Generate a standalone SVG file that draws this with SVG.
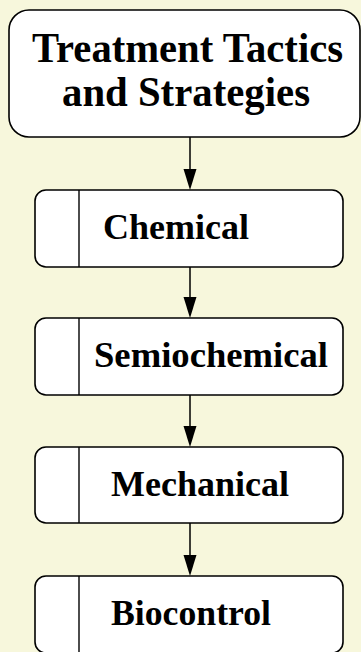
<svg xmlns="http://www.w3.org/2000/svg" width="361" height="652" viewBox="0 0 361 652">
<style>
.box{fill:#fff;stroke:#000;stroke-width:1.6}
.div{stroke:#000;stroke-width:1.4}
.t{font-family:"Liberation Serif","Times New Roman",serif;font-weight:bold;fill:#000}
.big{font-size:43px}
.small{font-size:36px}
.edge{stroke:#000;stroke-width:1.5;fill:none}
.head{fill:#000}
</style>
<rect x="0" y="0" width="361" height="652" fill="#F7F7DC"/>
<g id="edges">
<line class="edge" x1="190" y1="137" x2="190" y2="169"/>
<path class="head" d="M183.5,169 L196.5,169 L190,190 Z"/>
<line class="edge" x1="190" y1="267" x2="190" y2="297"/>
<path class="head" d="M183.5,297 L196.5,297 L190,318 Z"/>
<line class="edge" x1="190" y1="395" x2="190" y2="426"/>
<path class="head" d="M183.5,426 L196.5,426 L190,447 Z"/>
<line class="edge" x1="190" y1="523" x2="190" y2="555"/>
<path class="head" d="M183.5,555 L196.5,555 L190,576 Z"/>
</g>
<g id="root">
<rect class="box" x="9" y="10" width="351" height="127" rx="20"/>
<text class="t big" x="32" y="62" textLength="311" lengthAdjust="spacingAndGlyphs">Treatment Tactics</text>
<text class="t big" x="62" y="106" textLength="248" lengthAdjust="spacingAndGlyphs">and Strategies</text>
</g>
<g id="chemical">
<rect class="box" x="35" y="190" width="308" height="77" rx="11"/>
<line class="div" x1="79" y1="190" x2="79" y2="267"/>
<text class="t small" x="103" y="239" textLength="146" lengthAdjust="spacingAndGlyphs">Chemical</text>
</g>
<g id="semiochemical">
<rect class="box" x="35" y="318" width="308" height="77" rx="11"/>
<line class="div" x1="79" y1="318" x2="79" y2="395"/>
<text class="t small" x="94" y="367" textLength="234" lengthAdjust="spacingAndGlyphs">Semiochemical</text>
</g>
<g id="mechanical">
<rect class="box" x="35" y="447" width="308" height="76" rx="11"/>
<line class="div" x1="79" y1="447" x2="79" y2="523"/>
<text class="t small" x="111" y="496" textLength="178" lengthAdjust="spacingAndGlyphs">Mechanical</text>
</g>
<g id="biocontrol">
<rect class="box" x="35" y="576" width="308" height="77" rx="11"/>
<line class="div" x1="79" y1="576" x2="79" y2="653"/>
<text class="t small" x="111" y="625" textLength="160" lengthAdjust="spacingAndGlyphs">Biocontrol</text>
</g>
</svg>
